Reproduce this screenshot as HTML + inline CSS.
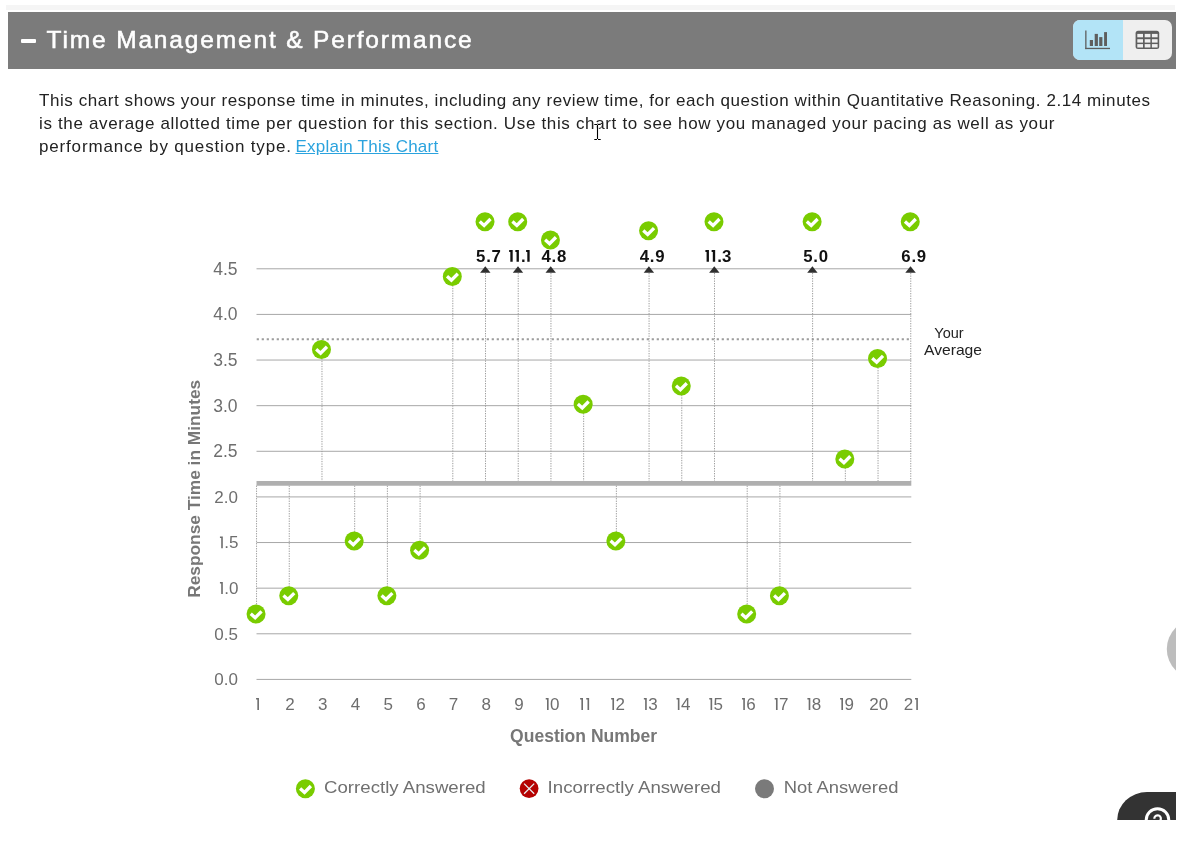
<!DOCTYPE html>
<html><head><meta charset="utf-8">
<style>
*{margin:0;padding:0;box-sizing:border-box}
html,body{width:1196px;height:852px;background:#fff;overflow:hidden}
body{font-family:"Liberation Sans",sans-serif;position:relative}
#clip{will-change:transform;position:absolute;left:0;top:0;width:1176px;height:820px;overflow:hidden}
.strip{position:absolute;left:6px;top:5px;width:1169px;height:4.8px;background:#f5f5f5}
.hdr{position:absolute;left:8px;top:11.6px;width:1168px;height:57.3px;background:#7b7b7b}
.minus{position:absolute;left:20.8px;top:38.5px;width:15.3px;height:4.4px;background:#fff;border-radius:1px}
.title{position:absolute;left:46.6px;top:25.5px;color:#fff;font-size:24.5px;letter-spacing:1.84px;white-space:nowrap;line-height:28px;-webkit-text-stroke:0.55px #fff}
.tog{position:absolute;left:1073px;top:20px;width:99px;height:40px;border-radius:7px;overflow:hidden;background:#efefef}
.tog .a{position:absolute;left:0;top:0;width:50px;height:40px;background:#b3e4f7}
.desc{position:absolute;left:39px;top:89px;color:#222;font-size:17px;line-height:23px;white-space:nowrap}
.desc a{color:#2ba3de;text-decoration:underline}
svg text{font-family:"Liberation Sans",sans-serif}
.yl{font-size:17.5px;fill:#6e6e6e}
.yl2{font-size:17px;fill:#6e6e6e}
.xl{font-size:17px;fill:#6e6e6e}
.ya{font-size:14.5px;fill:#222}
.ov{font-size:16.8px;font-weight:bold;fill:#111;letter-spacing:0.75px}
.vd{stroke:#9c9c9c;stroke-width:1;stroke-dasharray:1.3,1.2}
.ytitle{font-size:17px;font-weight:bold;fill:#777}
.xtitle{font-size:17.5px;font-weight:bold;fill:#777}
.leg{font-size:17px;fill:#707070}
</style></head><body>
<div id="clip">
<div class="strip"></div>
<div class="hdr"></div>
<div class="minus"></div>
<div class="title">Time Management &amp; Performance</div>
<div class="tog"><div class="a"></div>
<svg width="99" height="40" style="position:absolute;left:0;top:0">
<g fill="#5e5e5e">
<rect x="12.2" y="10.5" width="1.3" height="18.6"/>
<rect x="12.2" y="27.8" width="24.8" height="1.3"/>
<rect x="16.8" y="20" width="3.2" height="6"/>
<rect x="21.7" y="13.9" width="3.2" height="12.1"/>
<rect x="26.2" y="17.1" width="3.2" height="8.9"/>
<rect x="31.1" y="12.1" width="2.9" height="13.9"/>
</g>
<rect x="62.6" y="10.7" width="23.6" height="18.4" rx="2.5" fill="#5e5e5e"/>
<g fill="#efefef">
<rect x="64.3" y="13.9" width="5.7" height="3.4"/><rect x="71.7" y="13.9" width="5.7" height="3.4"/><rect x="78.9" y="13.9" width="5.7" height="3.4"/>
<rect x="64.3" y="19.2" width="5.7" height="3.4"/><rect x="71.7" y="19.2" width="5.7" height="3.4"/><rect x="78.9" y="19.2" width="5.7" height="3.4"/>
<rect x="64.3" y="24.1" width="5.7" height="3.4"/><rect x="71.7" y="24.1" width="5.7" height="3.4"/><rect x="78.9" y="24.1" width="5.7" height="3.4"/>
</g>
</svg></div>
<div class="desc"><span style="letter-spacing:0.565px">This chart shows your response time in minutes, including any review time, for each question within Quantitative Reasoning. 2.14 minutes</span><br><span style="letter-spacing:0.66px">is the average allotted time per question for this section. Use this chart to see how you managed your pacing as well as your</span><br><span style="letter-spacing:0.83px">performance by question type. </span><a style="letter-spacing:0.24px;margin-left:-1.8px">Explain This Chart</a></div>
<svg width="1196" height="852" style="position:absolute;left:0;top:0">
<defs>
<g id="ck"><circle r="9.5" fill="#79cc00"/><path d="M-5.3 -0.2 L-0.9 3.7 L5.5 -2.7" fill="none" stroke="#fff" stroke-width="3.3"/></g>
</defs>
<line x1="256.5" y1="679.42" x2="911.3" y2="679.42" stroke="#a8a8a8" stroke-width="1"/>
<line x1="256.5" y1="633.79" x2="911.3" y2="633.79" stroke="#a8a8a8" stroke-width="1"/>
<line x1="256.5" y1="588.17" x2="911.3" y2="588.17" stroke="#a8a8a8" stroke-width="1"/>
<line x1="256.5" y1="542.54" x2="911.3" y2="542.54" stroke="#a8a8a8" stroke-width="1"/>
<line x1="256.5" y1="496.92" x2="911.3" y2="496.92" stroke="#a8a8a8" stroke-width="1"/>
<line x1="256.5" y1="451.29" x2="911.3" y2="451.29" stroke="#a8a8a8" stroke-width="1"/>
<line x1="256.5" y1="405.67" x2="911.3" y2="405.67" stroke="#a8a8a8" stroke-width="1"/>
<line x1="256.5" y1="360.04" x2="911.3" y2="360.04" stroke="#a8a8a8" stroke-width="1"/>
<line x1="256.5" y1="314.42" x2="911.3" y2="314.42" stroke="#a8a8a8" stroke-width="1"/>
<line x1="256.5" y1="268.79" x2="911.3" y2="268.79" stroke="#a8a8a8" stroke-width="1"/>
<text x="238" y="685.2" text-anchor="end" class="yl2">0.0</text>
<text x="238" y="639.6" text-anchor="end" class="yl2">0.5</text>
<path d="M221.21 593.97h1.61v-11.90h-2.89v1.45h1.27z" fill="#6e6e6e"/>
<text x="224.27" y="593.97" class="yl2">.</text>
<text x="229.00" y="593.97" class="yl2">0</text>
<path d="M221.21 548.34h1.61v-11.90h-2.89v1.45h1.27z" fill="#6e6e6e"/>
<text x="224.27" y="548.34" class="yl2">.</text>
<text x="229.00" y="548.34" class="yl2">5</text>
<text x="238" y="502.7" text-anchor="end" class="yl2">2.0</text>
<text x="237.6" y="457.3" text-anchor="end" class="yl">2.5</text>
<text x="237.6" y="411.7" text-anchor="end" class="yl">3.0</text>
<text x="237.6" y="366.0" text-anchor="end" class="yl">3.5</text>
<text x="237.6" y="320.4" text-anchor="end" class="yl">4.0</text>
<text x="237.6" y="274.8" text-anchor="end" class="yl">4.5</text>
<path d="M257.35 709.90h1.61v-11.90h-2.89v1.45h1.27z" fill="#6e6e6e"/>
<text x="290.1" y="709.9" text-anchor="middle" class="xl">2</text>
<text x="322.8" y="709.9" text-anchor="middle" class="xl">3</text>
<text x="355.5" y="709.9" text-anchor="middle" class="xl">4</text>
<text x="388.2" y="709.9" text-anchor="middle" class="xl">5</text>
<text x="420.9" y="709.9" text-anchor="middle" class="xl">6</text>
<text x="453.6" y="709.9" text-anchor="middle" class="xl">7</text>
<text x="486.3" y="709.9" text-anchor="middle" class="xl">8</text>
<text x="519.0" y="709.9" text-anchor="middle" class="xl">9</text>
<path d="M547.01 709.90h1.61v-11.90h-2.89v1.45h1.27z" fill="#6e6e6e"/>
<text x="550.07" y="709.90" class="xl">0</text>
<path d="M581.39 709.90h1.61v-11.90h-2.89v1.45h1.27z" fill="#6e6e6e"/>
<path d="M587.51 709.90h1.61v-11.90h-2.89v1.45h1.27z" fill="#6e6e6e"/>
<path d="M612.43 709.90h1.61v-11.90h-2.89v1.45h1.27z" fill="#6e6e6e"/>
<text x="615.49" y="709.90" class="xl">2</text>
<path d="M645.14 709.90h1.61v-11.90h-2.89v1.45h1.27z" fill="#6e6e6e"/>
<text x="648.20" y="709.90" class="xl">3</text>
<path d="M677.85 709.90h1.61v-11.90h-2.89v1.45h1.27z" fill="#6e6e6e"/>
<text x="680.91" y="709.90" class="xl">4</text>
<path d="M710.56 709.90h1.61v-11.90h-2.89v1.45h1.27z" fill="#6e6e6e"/>
<text x="713.62" y="709.90" class="xl">5</text>
<path d="M743.27 709.90h1.61v-11.90h-2.89v1.45h1.27z" fill="#6e6e6e"/>
<text x="746.33" y="709.90" class="xl">6</text>
<path d="M775.98 709.90h1.61v-11.90h-2.89v1.45h1.27z" fill="#6e6e6e"/>
<text x="779.04" y="709.90" class="xl">7</text>
<path d="M808.69 709.90h1.61v-11.90h-2.89v1.45h1.27z" fill="#6e6e6e"/>
<text x="811.75" y="709.90" class="xl">8</text>
<path d="M841.40 709.90h1.61v-11.90h-2.89v1.45h1.27z" fill="#6e6e6e"/>
<text x="844.46" y="709.90" class="xl">9</text>
<text x="878.8" y="709.9" text-anchor="middle" class="xl">20</text>
<text x="903.76" y="709.90" class="xl">2</text>
<path d="M916.28 709.90h1.61v-11.90h-2.89v1.45h1.27z" fill="#6e6e6e"/>
<line x1="256.55" y1="485.6" x2="256.55" y2="605.1" class="vd"/>
<line x1="289.26" y1="485.6" x2="289.26" y2="586.8" class="vd"/>
<line x1="321.97" y1="358.4" x2="321.97" y2="481.2" class="vd"/>
<line x1="354.68" y1="485.6" x2="354.68" y2="532.1" class="vd"/>
<line x1="387.39" y1="485.6" x2="387.39" y2="586.8" class="vd"/>
<line x1="420.1" y1="485.6" x2="420.1" y2="541.2" class="vd"/>
<line x1="452.81" y1="285.4" x2="452.81" y2="481.2" class="vd"/>
<line x1="485.52" y1="273.0" x2="485.52" y2="481.2" class="vd"/>
<line x1="518.23" y1="273.0" x2="518.23" y2="481.2" class="vd"/>
<line x1="550.94" y1="273.0" x2="550.94" y2="481.2" class="vd"/>
<line x1="583.65" y1="413.2" x2="583.65" y2="481.2" class="vd"/>
<line x1="616.36" y1="485.6" x2="616.36" y2="532.1" class="vd"/>
<line x1="649.07" y1="273.0" x2="649.07" y2="481.2" class="vd"/>
<line x1="681.78" y1="394.9" x2="681.78" y2="481.2" class="vd"/>
<line x1="714.49" y1="273.0" x2="714.49" y2="481.2" class="vd"/>
<line x1="747.2" y1="485.6" x2="747.2" y2="605.1" class="vd"/>
<line x1="779.91" y1="485.6" x2="779.91" y2="586.8" class="vd"/>
<line x1="812.62" y1="273.0" x2="812.62" y2="481.2" class="vd"/>
<line x1="845.33" y1="467.9" x2="845.33" y2="481.2" class="vd"/>
<line x1="878.04" y1="367.6" x2="878.04" y2="481.2" class="vd"/>
<line x1="910.75" y1="273.0" x2="910.75" y2="481.2" class="vd"/>
<line x1="256.5" y1="483.35" x2="911.3" y2="483.35" stroke="#afafaf" stroke-width="4.9"/>
<line x1="256.7" y1="339.25" x2="910" y2="339.25" stroke="#9c9c9c" stroke-width="2.2" stroke-dasharray="2.2,2.8"/>
<text x="949" y="337.8" text-anchor="middle" class="ya">Your</text>
<text x="953" y="354.5" text-anchor="middle" class="ya" textLength="58" lengthAdjust="spacingAndGlyphs">Average</text>
<path d="M480.1 272.7 L490.5 272.7 L485.3 266.2Z" fill="#2f2f2f"/>
<text x="476.1" y="261.8" class="ov">5.7</text>
<path d="M512.8 272.7 L523.2 272.7 L518.0 266.2Z" fill="#2f2f2f"/>
<path d="M510.33 261.80h2.35v-11.76h-3.53v2.02h1.18z" fill="#111"/>
<path d="M516.55 261.80h2.35v-11.76h-3.53v2.02h1.18z" fill="#111"/>
<text x="521.08" y="261.80" class="ov">.</text>
<path d="M527.30 261.80h2.35v-11.76h-3.53v2.02h1.18z" fill="#111"/>
<path d="M545.5 272.7 L555.9 272.7 L550.7 266.2Z" fill="#2f2f2f"/>
<text x="541.5" y="261.8" class="ov">4.8</text>
<path d="M643.7 272.7 L654.1 272.7 L648.9 266.2Z" fill="#2f2f2f"/>
<text x="639.7" y="261.8" class="ov">4.9</text>
<path d="M709.1 272.7 L719.5 272.7 L714.3 266.2Z" fill="#2f2f2f"/>
<path d="M706.59 261.80h2.35v-11.76h-3.53v2.02h1.18z" fill="#111"/>
<path d="M712.81 261.80h2.35v-11.76h-3.53v2.02h1.18z" fill="#111"/>
<text x="717.34" y="261.80" class="ov">.</text>
<text x="721.88" y="261.80" class="ov">3</text>
<path d="M807.2 272.7 L817.6 272.7 L812.4 266.2Z" fill="#2f2f2f"/>
<text x="803.2" y="261.8" class="ov">5.0</text>
<path d="M905.3 272.7 L915.8 272.7 L910.5 266.2Z" fill="#2f2f2f"/>
<text x="901.3" y="261.8" class="ov">6.9</text>
<use href="#ck" x="256.05" y="614.05"/>
<use href="#ck" x="288.76" y="595.80"/>
<use href="#ck" x="321.47" y="349.43"/>
<use href="#ck" x="354.18" y="541.05"/>
<use href="#ck" x="386.89" y="595.80"/>
<use href="#ck" x="419.60" y="550.18"/>
<use href="#ck" x="452.31" y="276.43"/>
<use href="#ck" x="485.02" y="221.68"/>
<use href="#ck" x="517.73" y="221.68"/>
<use href="#ck" x="550.44" y="239.93"/>
<use href="#ck" x="583.15" y="404.18"/>
<use href="#ck" x="615.86" y="541.05"/>
<use href="#ck" x="648.57" y="230.80"/>
<use href="#ck" x="681.28" y="385.93"/>
<use href="#ck" x="713.99" y="221.68"/>
<use href="#ck" x="746.70" y="614.05"/>
<use href="#ck" x="779.41" y="595.80"/>
<use href="#ck" x="812.12" y="221.68"/>
<use href="#ck" x="844.83" y="458.93"/>
<use href="#ck" x="877.54" y="358.55"/>
<use href="#ck" x="910.25" y="221.68"/>
<text transform="translate(200.2,488.8) rotate(-90)" text-anchor="middle" class="ytitle" textLength="218" lengthAdjust="spacingAndGlyphs">Response Time in Minutes</text>
<text x="583.6" y="741.7" text-anchor="middle" class="xtitle" textLength="147" lengthAdjust="spacingAndGlyphs">Question Number</text>
<use href="#ck" x="305.4" y="788.7"/>
<text x="324" y="793" class="leg" textLength="161.7" lengthAdjust="spacingAndGlyphs">Correctly Answered</text>
<circle cx="529.1" cy="788.6" r="9.4" fill="#b50202"/>
<path d="M524.1 783.6 L534.2 793.8 M534.2 783.6 L524.1 793.8" stroke="#e8eef0" stroke-width="1.3"/>
<text x="547.6" y="793" class="leg" textLength="173.4" lengthAdjust="spacingAndGlyphs">Incorrectly Answered</text>
<circle cx="764.5" cy="788.7" r="9.5" fill="#7a7a7a"/>
<text x="783.8" y="793" class="leg" textLength="114.6" lengthAdjust="spacingAndGlyphs">Not Answered</text>
<g fill="none" stroke-linecap="butt">
<path d="M597.5 124.5V139.5M594.3 124.5H597M598 124.5H600.7M594.3 139.5H597M598 139.5H600.7" stroke="#fff" stroke-width="2.6"/>
<path d="M597.5 125V139M594.3 124.5H597M598 124.5H600.7M594.3 139.5H597M598 139.5H600.7" stroke="#000" stroke-width="1.1"/>
</g>
<circle cx="1197" cy="649" r="30.2" fill="#bdbdbd"/>
<path d="M1117.2 820 A30 28 0 0 1 1147 792 L1176 792 L1176 820 Z" fill="#333"/>
<circle cx="1157.5" cy="820" r="11.3" fill="none" stroke="#fff" stroke-width="3"/>
<path d="M1154.3 818.8 A3.3 3.3 0 1 1 1159.9 821" fill="none" stroke="#fff" stroke-width="2.2"/>
</svg>
</div>
</body></html>
